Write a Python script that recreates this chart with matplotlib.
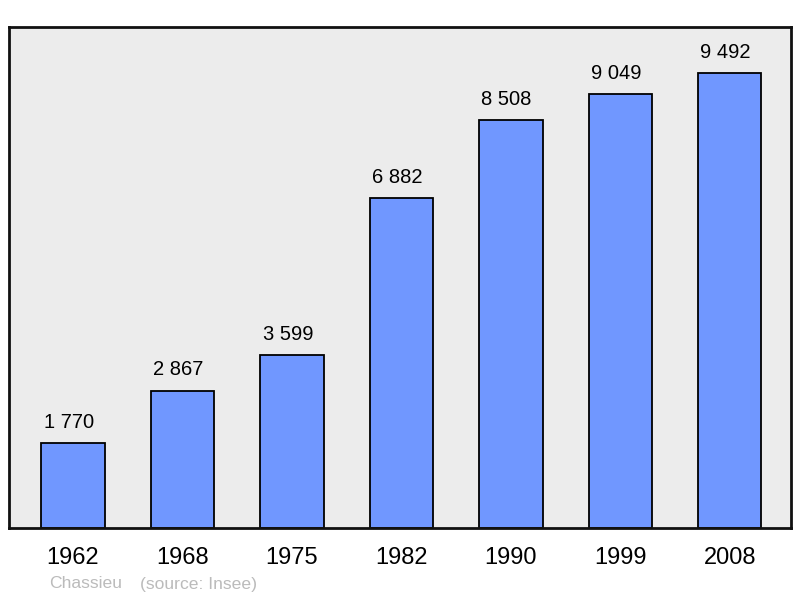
import matplotlib
matplotlib.use("Agg")
import matplotlib.pyplot as plt

years = ["1962", "1968", "1975", "1982", "1990", "1999", "2008"]
population = [1770, 2867, 3599, 6882, 8508, 9049, 9492]
value_labels = ["1 770", "2 867", "3 599", "6 882", "8 508", "9 049", "9 492"]
town = "Chassieu"
source = "(source: Insee)"

plt.rcParams["font.family"] = ["Liberation Sans", "DejaVu Sans"]

fig = plt.figure(figsize=(8.0, 5.98), dpi=100)
ax = fig.add_axes([9 / 800, 1 - 528 / 598, 782 / 800, 501 / 598])
ax.set_facecolor("#ececec")

x = range(len(years))
ax.bar(x, population, width=0.58, color="#7097ff", edgecolor="black",
       linewidth=1.3, zorder=2)
# value labels sit a little left of the bar centre in the original
for xi, v, lab in zip(x, population, value_labels):
    ax.annotate(lab, (xi, v), xytext=(-3, 15), textcoords="offset points",
                ha="center", va="center", fontsize=14.5)

ax.set_xlim(-0.585, 6.56)
ax.set_ylim(0, 10452)
ax.set_yticks([])
ax.set_xticks(list(x), labels=years, fontsize=17)
ax.tick_params(axis="x", length=0, pad=14)
for s in ax.spines.values():
    s.set_linewidth(2)
    s.set_color("#111111")

fig.text(49 / 800, 1 - 584 / 598, town, fontsize=12.6, color="#bbbbbb",
         va="center", ha="left")
fig.text(140 / 800, 1 - 584 / 598, source, fontsize=12.6, color="#bbbbbb",
         va="center", ha="left")

fig.savefig("out.png", dpi=100)
